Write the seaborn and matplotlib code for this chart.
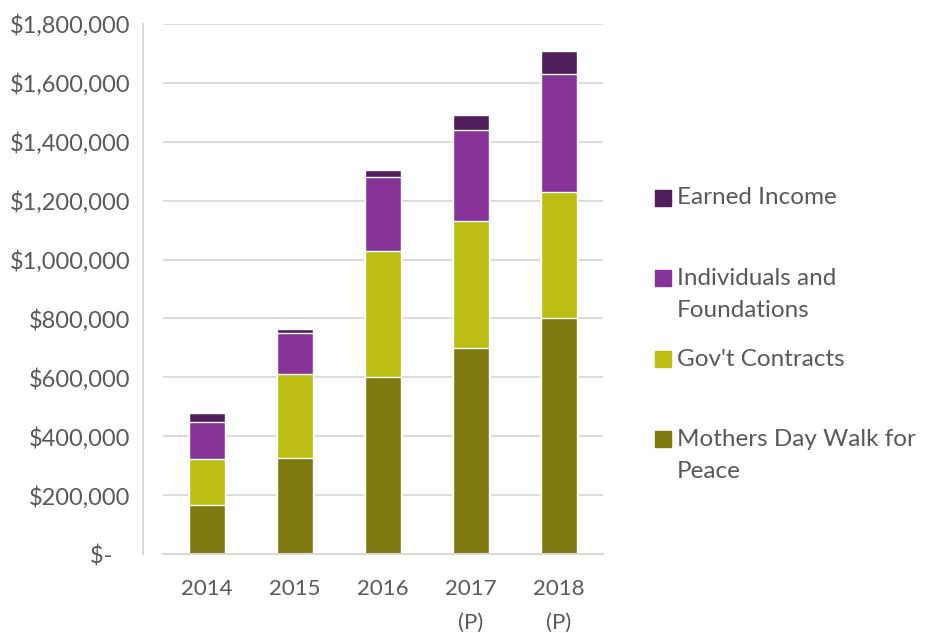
import numpy as np
import matplotlib.pyplot as plt
import matplotlib.ticker as mticker
from matplotlib.patches import Rectangle
import seaborn as sns

# values (USD)
years = ["2014", "2015", "2016", "2017\n(P)", "2018\n(P)"]
mothers_day = [167000, 325000, 600000, 700000, 800000]
gov_contracts = [156000, 286000, 430000, 431000, 430000]
individuals = [124000, 140000, 250000, 310000, 400000]
earned = [33000, 12000, 25000, 50000, 80000]

series_names = ["Mothers Day Walk for\nPeace", "Gov't Contracts",
                "Individuals and\nFoundations", "Earned Income"]
series_colors = ["#7f7a10", "#bcbe13", "#873397", "#511d5d"]

sns.set_style("white")
plt.rcParams['font.family'] = ['Lato', 'DejaVu Sans']
text_color = "#595959"
line_color = "#d9d9d9"

fig = plt.figure(figsize=(9.31, 6.33), dpi=100)
ax = fig.add_axes([163 / 931, 1 - 554 / 633, 440 / 931, 530 / 633])

# stacked bars: draw cumulative totals, tallest first
layers = np.cumsum([mothers_day, gov_contracts, individuals, earned], axis=0)
for cum, color in zip(layers[::-1], series_colors[::-1]):
    sns.barplot(x=years, y=cum, color=color, width=0.41, saturation=1, ax=ax)

ax.set_ylim(0, 1800000)
ax.set_xlim(-0.5, 4.5)
ax.yaxis.set_major_locator(mticker.MultipleLocator(200000))
ax.yaxis.set_major_formatter(mticker.FuncFormatter(
    lambda v, p: "$-   " if v == 0 else f"${v:,.0f}"))
ax.yaxis.grid(True, color=line_color, lw=1.3)
ax.set_axisbelow(True)

for s in ["top", "right"]:
    ax.spines[s].set_visible(False)
ax.spines["left"].set_position(("outward", 14.4))
ax.spines["left"].set_color(line_color)
ax.spines["left"].set_linewidth(1.5)
ax.spines["bottom"].set_color(line_color)
ax.spines["bottom"].set_linewidth(1.5)

ax.set_xticks(np.arange(-0.5, 5, 1), minor=True)
ax.tick_params(axis="x", which="minor", length=7, width=1.5, color=line_color)
ax.tick_params(axis="x", which="major", length=0, pad=18, labelsize=16, labelcolor=text_color)
ax.tick_params(axis="y", length=0, pad=9, labelsize=17, labelcolor=text_color)
for t in ax.get_xticklabels():
    t.set_linespacing(1.85)
ax.set_xlabel("")
ax.set_ylabel("")

# legend drawn by hand so the swatch sits on the first line of the label
first_line_y = [198, 278, 359, 439]
for i, (name, color) in enumerate(zip(series_names[::-1], series_colors[::-1])):
    yc = first_line_y[i]
    fig.add_artist(Rectangle((655 / 931, 1 - (yc + 8) / 633), 16 / 931, 16 / 633,
                             transform=fig.transFigure, color=color))
    nlines = name.count("\n") + 1
    fig.text(677 / 931, 1 - (yc + (nlines - 1) * 16.5) / 633, name,
             ha="left", va="center", fontsize=17.5, color=text_color, linespacing=1.65)

fig.savefig("out.png", dpi=100)
